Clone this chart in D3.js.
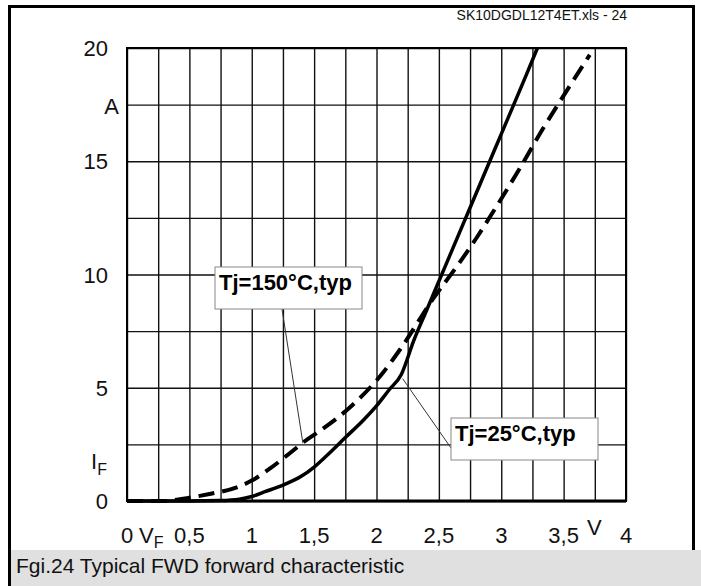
<!DOCTYPE html>
<html><head><meta charset="utf-8">
<script src="https://cdn.jsdelivr.net/npm/d3@7"></script>
<style>body{margin:0;background:#fff;}svg{display:block;font-family:"Liberation Sans",Arial,sans-serif;}</style>
</head><body>
<svg id="c" width="701" height="586"></svg>
<script>
// ---- data ----
const xTicks = [0, 0.5, 1, 1.5, 2, 2.5, 3, 3.5, 4];
const xTickLabels = ["0", "0,5", "1", "1,5", "2", "2,5", "3", "3,5", "4"];
const yTicks = [0, 5, 10, 15, 20];
const yTickLabels = ["0", "5", "10", "15", "20"];
// Tj = 25°C (solid)
const vf25 = [0, 0.5, 0.75, 0.9, 1.0, 1.1, 1.25, 1.4, 1.5, 1.6, 1.75, 1.9, 2.0, 2.1, 2.2, 2.3, 2.4, 2.5, 2.6, 2.7, 2.8, 2.9, 3.0, 3.1, 3.2, 3.29];
const if25 = [0, 0, 0.02, 0.08, 0.2, 0.4, 0.7, 1.1, 1.5, 2.0, 2.8, 3.6, 4.2, 4.9, 5.6, 7.1, 8.4, 9.7, 11.0, 12.3, 13.6, 14.9, 16.2, 17.5, 18.8, 20];
// Tj = 150°C (dashed)
const vf150 = [0, 0.3, 0.45, 0.65, 0.88, 1.0, 1.15, 1.28, 1.44, 1.52, 1.79, 2.05, 2.19, 2.45, 2.65, 2.8, 2.95, 3.15, 3.33, 3.5, 3.71];
const if150 = [0, 0, 0.1, 0.3, 0.6, 0.9, 1.45, 2.0, 2.7, 3.0, 4.15, 5.65, 6.7, 8.9, 10.4, 11.6, 12.9, 14.7, 16.4, 17.9, 19.7];
const header = "SK10DGDL12T4ET.xls - 24";
const caption = "Fgi.24 Typical FWD forward characteristic";
const label150 = "Tj=150°C,typ";
const label25 = "Tj=25°C,typ";

// ---- chart ----
const svg = d3.select("#c");
const x = d3.scaleLinear().domain([0, 4]).range([127, 626]);
const y = d3.scaleLinear().domain([0, 20]).range([501, 48]);
const FS = 22;

// outer frame + caption band
svg.append("rect").attr("x", 11).attr("y", 550).attr("width", 690).attr("height", 36).attr("fill", "#e0e0e0");
svg.append("path").attr("d", "M9.5,586V6.5H693.5V550").attr("fill", "none").attr("stroke", "#000").attr("stroke-width", 3);
svg.append("text").attr("x", 16).attr("y", 573).attr("font-size", 21).attr("fill", "#111").text(caption);
svg.append("text").attr("x", 627).attr("y", 20).attr("text-anchor", "end").attr("font-size", 14).attr("fill", "#111").text(header);

// grid
const g = svg.append("g");
g.append("g").attr("transform", `translate(0,${y(0)})`)
  .call(d3.axisBottom(x).tickValues(d3.range(0, 4.001, 0.25)).tickSize(y(20) - y(0)).tickFormat(""))
  .call(a => a.select(".domain").remove())
  .call(a => a.selectAll("line").attr("stroke", "#111").attr("stroke-width", 1.4));
g.append("g").attr("transform", `translate(${x(0)},0)`)
  .call(d3.axisLeft(y).tickValues(d3.range(0, 20.001, 2.5)).tickSize(x(0) - x(4)).tickFormat(""))
  .call(a => a.select(".domain").remove())
  .call(a => a.selectAll("line").attr("stroke", "#111").attr("stroke-width", 1.4));
g.append("rect").attr("x", x(0)).attr("y", y(20)).attr("width", x(4) - x(0)).attr("height", y(0) - y(20))
  .attr("fill", "none").attr("stroke", "#000").attr("stroke-width", 2);
g.append("line").attr("x1", x(0)).attr("x2", x(4)).attr("y1", y(0)).attr("y2", y(0)).attr("stroke", "#000").attr("stroke-width", 3);

// tick labels
svg.append("g").selectAll("text").data(xTicks).join("text")
  .attr("x", d => x(d)).attr("y", 543).attr("text-anchor", "middle").attr("font-size", FS).attr("fill", "#111")
  .text((d, i) => xTickLabels[i]);
svg.append("g").selectAll("text").data(yTicks).join("text")
  .attr("x", 108).attr("y", d => y(d) + 8).attr("text-anchor", "end").attr("font-size", FS).attr("fill", "#111")
  .text((d, i) => yTickLabels[i]);
// axis names
const vf = svg.append("text").attr("x", 139).attr("y", 543).attr("font-size", FS).attr("fill", "#111");
vf.append("tspan").text("V");
vf.append("tspan").attr("font-size", 16).attr("dy", 5).text("F");
svg.append("text").attr("x", 587).attr("y", 535).attr("font-size", FS).attr("fill", "#111").text("V");
svg.append("text").attr("x", 119).attr("y", 114).attr("text-anchor", "end").attr("font-size", FS).attr("fill", "#111").text("A");
const ifl = svg.append("text").attr("x", 91).attr("y", 469).attr("font-size", FS).attr("fill", "#111");
ifl.append("tspan").text("I");
ifl.append("tspan").attr("font-size", 16).attr("dy", 6).text("F");

// curves
const line = d3.line().x(d => x(d[0])).y(d => y(d[1])).curve(d3.curveMonotoneX);
const plot = svg.append("g");
plot.append("path").datum(vf25.map((v, i) => [v, if25[i]])).attr("d", line)
  .attr("fill", "none").attr("stroke", "#000").attr("stroke-width", 3.5);
plot.append("path").datum(vf150.map((v, i) => [v, if150[i]])).attr("d", line)
  .attr("fill", "none").attr("stroke", "#000").attr("stroke-width", 4).attr("stroke-dasharray", "16,8");

// annotations
function note(bx, by, bw, bh, txt, lx1, ly1, lx2, ly2) {
  svg.append("line").attr("x1", lx1).attr("y1", ly1).attr("x2", lx2).attr("y2", ly2).attr("stroke", "#333").attr("stroke-width", 1);
  svg.append("rect").attr("x", bx).attr("y", by).attr("width", bw).attr("height", bh)
    .attr("fill", "#fff").attr("stroke", "#888").attr("stroke-width", 1);
  svg.append("text").attr("x", bx + 4).attr("y", by + 23).attr("font-size", 22).attr("font-weight", "bold")
    .attr("fill", "#000").text(txt);
}
note(215, 267, 147, 42, label150, 282, 309, x(1.41), y(2.55));
note(451, 418, 147, 42, label25, 451, 448, x(2.21), y(5.4));
</script>
</body></html>
